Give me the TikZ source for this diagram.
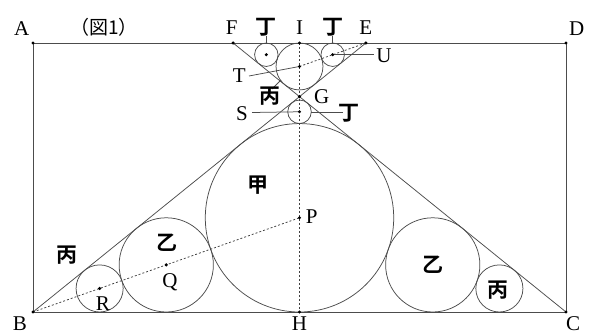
\documentclass[tikz,border=0pt]{standalone}
\usepackage{fontspec}
\setmainfont{Liberation Serif}
\newfontfamily\cjk{Noto Sans CJK JP}
\newfontfamily\cjkb{Noto Sans CJK JP Bold}
\begin{document}
\begin{tikzpicture}[x=1pt,y=-1pt,
  ln/.style={draw=black!70,line width=0.75pt},
  dsh/.style={draw=black!75,line width=0.75pt,dash pattern=on 2pt off 2pt},
  circ/.style={circle,draw=black!70,line width=0.75pt,inner sep=0pt,minimum size=#1},
  pt/.style={fill=black},
  lab/.style={font=\fontsize{21}{23}\selectfont,inner sep=0pt},
  kan/.style={font=\cjkb\fontsize{21}{23}\selectfont,inner sep=0pt}]
\useasboundingbox (0,0) rectangle (591,336);
% points
\coordinate (A) at (33,43);
\coordinate (D) at (566,43);
\coordinate (B) at (33,312);
\coordinate (C) at (566,312);
\coordinate (H) at (299.5,312);
\coordinate (I) at (299.5,43);
\coordinate (G) at (299.5,96.64);
\coordinate (F) at (233.12,43);
\coordinate (E) at (365.88,43);
\coordinate (P) at (299.5,217.78);
\coordinate (Ic) at (299.5,66.47);
\coordinate (Tl) at (266.31,54.73);
\coordinate (Tr) at (332.69,54.73);
\coordinate (S) at (299.5,111.78);
\coordinate (Q) at (166.25,264.89);
\coordinate (R) at (99.62,288.45);
\coordinate (Q2) at (432.75,264.89);
\coordinate (R2) at (499.38,288.45);
% circles
\node[circ=188.44pt] (cP) at (P) {};
\node[circ=46.94pt] (cI) at (Ic) {};
\node[circ=23.46pt] (cTl) at (Tl) {};
\node[circ=23.46pt] (cTr) at (Tr) {};
\node[circ=23.56pt] (cS) at (S) {};
\node[circ=94.22pt] (cQ) at (Q) {};
\node[circ=47.11pt] (cR) at (R) {};
\node[circ=94.22pt] (cQ2) at (Q2) {};
\node[circ=47.11pt] (cR2) at (R2) {};
% frame and tangent lines
\draw[ln] (A) -- (D) -- (C) -- (B) -- cycle;
\draw[ln] (B) -- (E);
\draw[ln] (C) -- (F);
% dashed lines
\draw[dsh] (I) -- (H);
\draw[dsh] (B) -- (P);
\draw[dsh] (Ic) -- (E);
% leader lines
\coordinate (Tend) at (249,76);
\coordinate (Uend) at (374,54.73);
\coordinate (Send) at (252,112.5);
\coordinate (S2a) at (311.3,112.5);
\coordinate (S2b) at (343,112.5);
\coordinate (Tla) at (266.31,36);
\coordinate (Tra) at (332.69,36);
\coordinate (Ba) at (272,89);
\coordinate (Bb) at (281,80);
\draw[ln] (Tend) -- (Ic);
\draw[ln] (Tr) -- (Uend);
\draw[ln] (Send) -- (S);
\draw[ln] (S2a) -- (S2b);
\draw[ln] (Tla) -- (cTl.north);
\draw[ln] (Tra) -- (cTr.north);
\draw[ln] (Ba) -- (Bb);
% dots
\foreach \p in {A,D,B,C,H,I,F,E,G,P,Q,R,Ic,Tl,Tr,S}
  \fill[pt] (\p) circle (1.7);
% labels
\node[lab] (lA) at (21.7,29) {A};
\node[lab] (lD) at (576.7,29) {D};
\node[lab] (lB) at (20,324) {B};
\node[lab] (lC) at (573,324) {C};
\node[lab] (lH) at (299.5,324) {H};
\node[lab] (lF) at (231.7,28) {F};
\node[lab] (lI) at (299.5,28) {I};
\node[lab] (lE) at (365.7,28) {E};
\node[lab] (lU) at (384,56) {U};
\node[lab] (lT) at (239.3,76) {T};
\node[lab] (lG) at (321.7,97) {G};
\node[lab] (lS) at (242,114) {S};
\node[lab] (lP) at (311.7,217) {P};
\node[lab] (lQ) at (170,282) {Q};
\node[lab] (lR) at (103,304) {R};
\node[kan] (k1) at (265.7,27) {丁};
\node[kan] (k2) at (333.3,27) {丁};
\node[kan] (k3) at (349,113) {丁};
\node[kan] (k4) at (270,96) {丙};
\node[kan] (k5) at (258,185) {甲};
\node[kan] (k6) at (166.7,243) {乙};
\node[kan] (k7) at (66.7,255) {丙};
\node[kan] (k8) at (433,265) {乙};
\node[kan] (k9) at (498,290) {丙};
\node[font=\cjk\fontsize{19}{21}\selectfont,inner sep=0pt] (title) at (104,27) {（図1）};
\end{tikzpicture}
\end{document}
